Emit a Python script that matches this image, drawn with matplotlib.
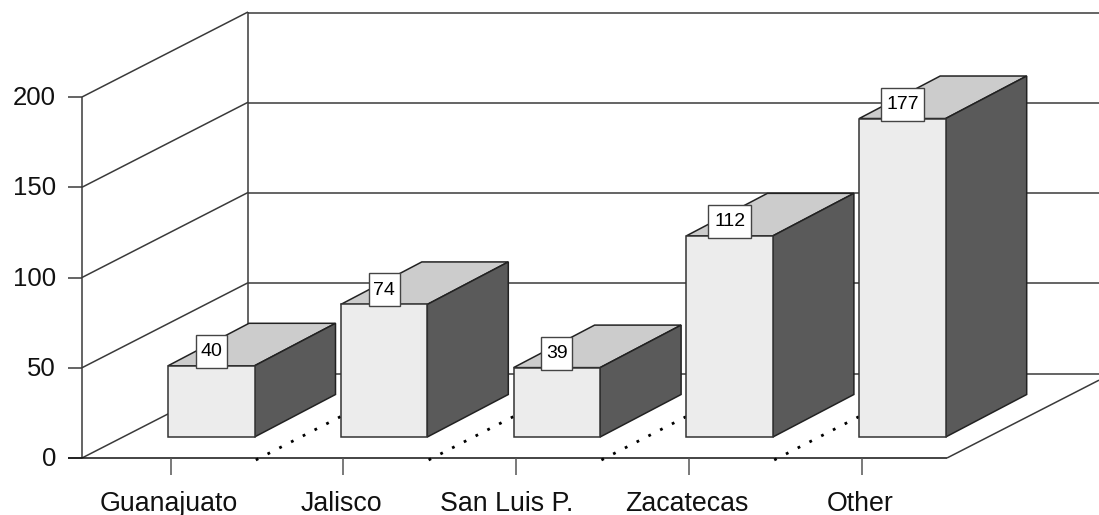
import matplotlib
matplotlib.use("Agg")
import matplotlib.pyplot as plt
from matplotlib.patches import Polygon, Rectangle

categories = ["Guanajuato", "Jalisco", "San Luis P.", "Zacatecas", "Other"]
values = [40, 74, 39, 112, 177]
y_ticks = [0, 50, 100, 150, 200]

plt.rcParams["font.family"] = ["Liberation Sans", "DejaVu Sans"]

# Pixel geometry of the fake 3D box
px_per_unit = 1.805
front_x = 82
front_y = 458
wall_dx = 166
wall_dy = -85
right_x = 947
bar_base = 437
bar_step = 172.8
bar_left = 168
bar_width = 86.5
bar_dx = 81
bar_dy = -42.5
line_color = "#3a3a3a"

fig = plt.figure(figsize=(10.99, 5.15), dpi=100)
ax = fig.add_axes([0, 0, 1, 1])
ax.set_xlim(0, 1099)
ax.set_ylim(515, 0)
ax.axis("off")


def line(xs, ys, lw=1.1, color=line_color, **kw):
    ax.plot(xs, ys, color=color, lw=lw, solid_capstyle="butt", zorder=1, **kw)


# Walls, gridlines and y axis
for t in y_ticks:
    y = front_y - t * px_per_unit
    line([68, front_x], [y, y])
    line([front_x, front_x + wall_dx], [y, y + wall_dy])
    line([front_x + wall_dx, 1099], [y + wall_dy + 0.5, y + wall_dy + 0.5])
    ax.text(56, y + 1, str(t), ha="right", va="center", fontsize=18.5, color="#111111")

top = front_y - y_ticks[-1] * px_per_unit
line([front_x, front_x], [front_y, top])
line([front_x + wall_dx] * 2, [front_y + wall_dy, top + wall_dy])

# Floor
line([68, right_x], [front_y, front_y], color="#111111")
line([right_x, 1099], [front_y, front_y + (1099 - right_x) * wall_dy / wall_dx])

# Bars, ticks and category labels
for i, (name, val) in enumerate(zip(categories, values)):
    x0 = bar_left + i * bar_step
    x1 = x0 + bar_width
    y1 = bar_base - val * px_per_unit + 1
    tick_x = x0 + 2.5

    line([tick_x, tick_x], [front_y, 475], color="#555555")
    label = name + "  " if name.endswith(".") else name
    ax.text(tick_x - 2, 504, label, ha="center", va="center", fontsize=19.3, color="#111111")

    # Dotted floor divider leading up to each bar
    if i > 0:
        ax.plot([x0 - 85, x0 + 1], [front_y + 2, front_y - 42], color="black",
                lw=2, linestyle=(0, (1, 3.75)), dash_capstyle="butt", zorder=1)

    ax.add_patch(Polygon([(x0, y1), (x1, y1), (x1 + bar_dx, y1 + bar_dy), (x0 + bar_dx, y1 + bar_dy)],
                         facecolor="#cccccc", edgecolor="#222222", lw=1.1, zorder=2))
    ax.add_patch(Polygon([(x1, bar_base), (x1, y1), (x1 + bar_dx, y1 + bar_dy), (x1 + bar_dx, bar_base + bar_dy)],
                         facecolor="#5a5a5a", edgecolor="#222222", lw=1.1, zorder=2))
    ax.add_patch(Rectangle((x0, y1), bar_width, bar_base - y1,
                           facecolor="#ececec", edgecolor="#333333", lw=1.1, zorder=3))

    # Value label box
    box_w = 31 if val < 100 else 43
    cx = x0 + bar_width / 2
    ax.add_patch(Rectangle((cx - box_w / 2, y1 - 31), box_w, 33,
                           facecolor="white", edgecolor="#444444", lw=1, zorder=4))
    ax.text(cx, y1 - 14, str(val), ha="center", va="center", fontsize=14, color="black", zorder=5)

fig.savefig("out.png", dpi=100)
